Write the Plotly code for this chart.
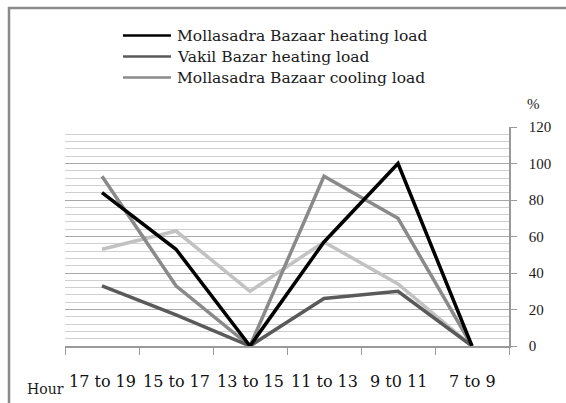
import plotly.graph_objects as go

hours = ["17 to 19", "15 to 17", "13 to 15", "11 to 13", "9 t0 11", "7 to 9"]
molla_heating = [84, 53, 0, 57, 100, 0]
vakil_heating = [33, 17, 0, 26, 30, 0]
molla_cooling = [93, 33, 0, 93, 70, 0]
vakil_cooling = [53, 63, 30, 57, 34, 0]

series = [
    ("Vakil Bazar cooling load", vakil_cooling, "#c2c2c2", False),
    ("Mollasadra Bazaar cooling load", molla_cooling, "#8a8a8a", True),
    ("Vakil Bazar heating load", vakil_heating, "#5a5a5a", True),
    ("Mollasadra Bazaar heating load", molla_heating, "#000000", True),
]
legend_order = [3, 2, 1]
legend_rows_y = [35.5, 56.5, 77.5]

fig = go.Figure()
for name, vals, color, show in series:
    fig.add_trace(go.Scatter(x=hours, y=vals, mode="lines", name=name,
                             line=dict(color=color, width=3.5),
                             showlegend=False))

L, R, T, B = 65, 57, 127, 57
W, H = 566, 403
pw, ph = W - L - R, H - T - B

def px(x):
    return (x - L) / pw

def py(y):
    return (H - B - y) / ph

serif = "Liberation Serif"
dserif = "DejaVu Serif"

fig.update_layout(
    width=W, height=H,
    margin=dict(l=L, r=R, t=T, b=B, autoexpand=False),
    paper_bgcolor="white", plot_bgcolor="white",
    font=dict(family=serif, color="#1a1a1a"),
    showlegend=False,
    xaxis=dict(type="category", tickson="boundaries", ticks="outside",
               ticklen=7, tickcolor="#9a9a9a", showgrid=False,
               showline=True, linecolor="#9a9a9a", linewidth=1.5,
               showticklabels=False, range=[-0.5, 5.5],
               automargin=False),
    yaxis=dict(side="right", range=[0, 120], dtick=20, tick0=0,
               ticks="outside", ticklen=6, tickcolor="#9a9a9a",
               showgrid=True, gridcolor="#a8a8a8", gridwidth=1,
               showline=True, linecolor="#9a9a9a", linewidth=1.5,
               zeroline=False, automargin=False,
               tickfont=dict(family=serif, size=15, color="#1a1a1a"),
               ticklabelstandoff=9,
               minor=dict(dtick=4, showgrid=True, gridcolor="#cfcfcf",
                          gridwidth=1)),
)

# category labels placed on the category axis, lower than the default spot
for h in hours:
    fig.add_annotation(text=h, x=h, xref="x", y=py(381), yref="paper",
                       xanchor="center", yanchor="middle", showarrow=False,
                       font=dict(family=dserif, size=16, color="#111111"))

# legend (drawn as line samples + labels, like the reference key)
for idx, ry in zip(legend_order, legend_rows_y):
    name, _, color, _ = series[idx]
    fig.add_shape(type="line", xref="paper", yref="paper",
                  x0=px(123), x1=px(171), y0=py(ry), y1=py(ry),
                  line=dict(color=color, width=2.5))
    fig.add_annotation(text=name, x=px(175), y=py(ry), xref="paper", yref="paper",
                       xanchor="left", yanchor="middle", showarrow=False,
                       font=dict(family=dserif, size=15.5, color="#1a1a1a"))

fig.add_annotation(text="%", x=px(525), y=py(104), xref="paper", yref="paper",
                   xanchor="left", yanchor="middle",
                   showarrow=False, font=dict(family=serif, size=15, color="#1a1a1a"))
fig.add_annotation(text="Hour", x=px(66), y=py(389), xref="paper", yref="paper",
                   xanchor="right", yanchor="middle", showarrow=False,
                   font=dict(family=dserif, size=14, color="#1a1a1a"))

# outer frame (top and left edges visible in reference)
fig.add_shape(type="line", xref="paper", yref="paper",
              x0=px(8), x1=px(566), y0=py(8), y1=py(8),
              line=dict(color="#8a8a8a", width=2.5))
fig.add_shape(type="line", xref="paper", yref="paper",
              x0=px(9), x1=px(9), y0=py(7), y1=py(403),
              line=dict(color="#8a8a8a", width=2.5))

fig.write_html("out.html", config={"displayModeBar": False},
               post_script="document.body.style.margin='0';")
